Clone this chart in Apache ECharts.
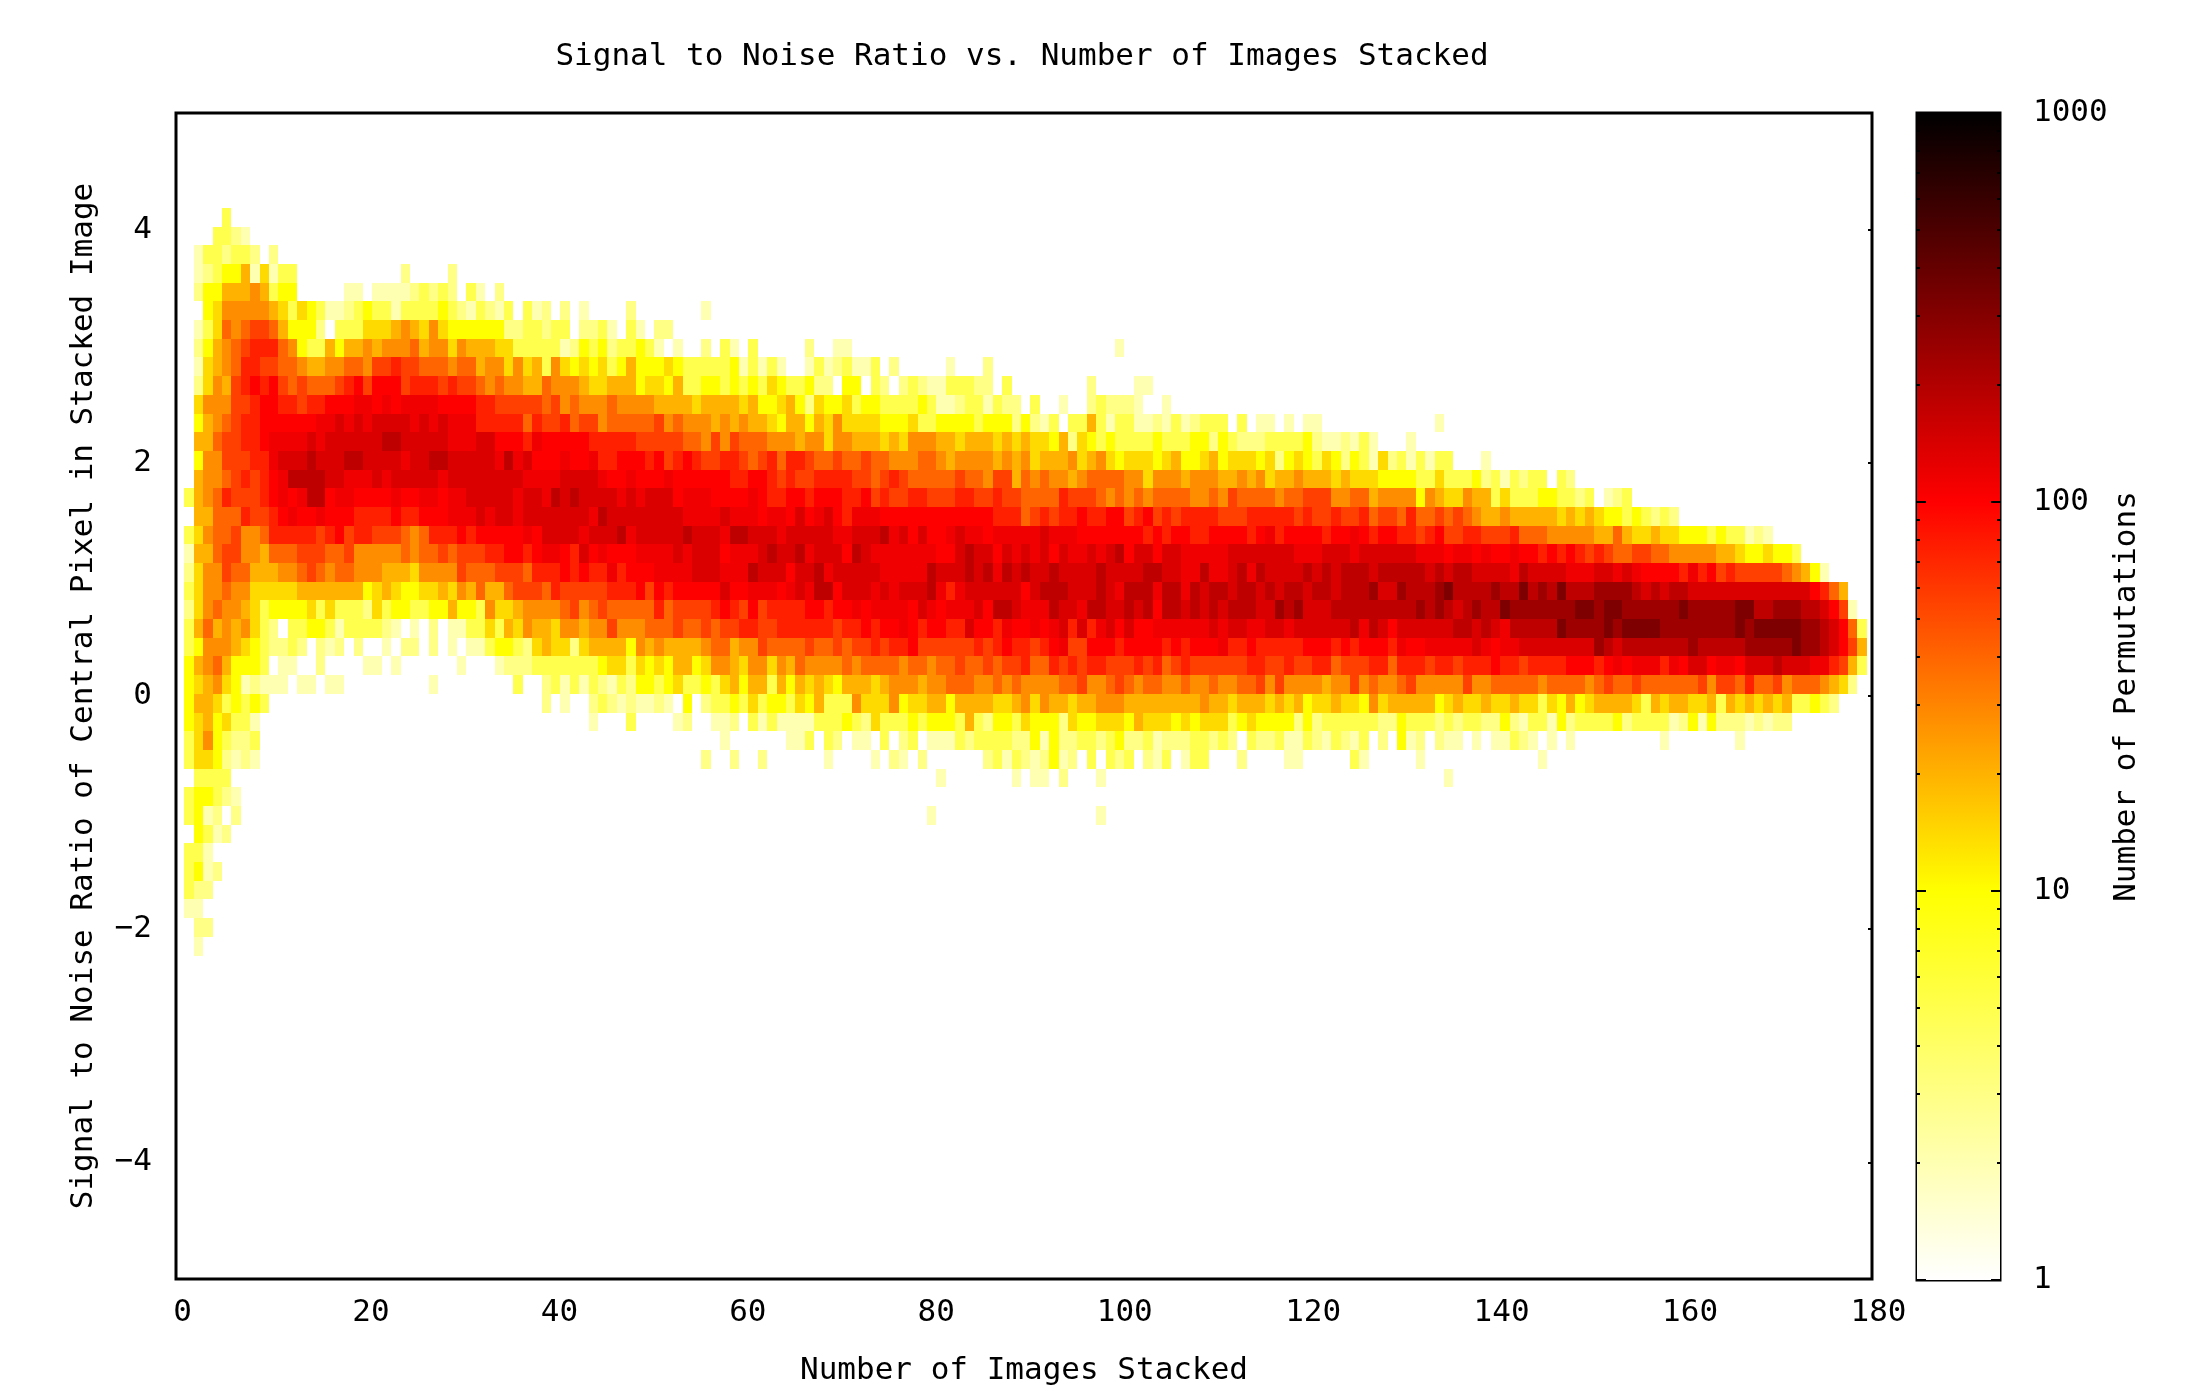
<!DOCTYPE html>
<html>
<head>
<meta charset="utf-8">
<title>Signal to Noise Ratio vs. Number of Images Stacked</title>
<script src="https://cdn.jsdelivr.net/npm/echarts@6/dist/echarts.min.js"></script>
<style>
  html, body { margin: 0; padding: 0; background: #fff; }
  #chart { width: 2198px; height: 1391px; }
</style>
</head>
<body>
<div id="chart"></div>
<script>
  // levels: one letter per cell, '.' is an empty cell
  var levelKeys = 'abcdefghijklmnop';
  var levelCounts = [2, 3, 5, 10, 14, 20, 28, 40, 56, 75, 100, 115, 140, 180, 240, 320];

  // images 1-31, rows 0-39
  var cellsA = [
    '....c',
    '...ccba',
    '.accbccb.b',
    '.abcddfaeacc...........b....b',
    '.bddfffgfcdd.....aa.aaaabcbcb.c',
    '..degggggfecedcaabcdccaccccdcba',
    '.acehghiihfdddb.ccceeefgfegeddd',
    '.bdfghijjjhgdccfdffgfggghfggegf',
    '.aefghjjiihhgffgghhgiijiihhhghh',
    '.begfijkjkihihhhijkikkkijjjijii',
    '.egggiijkkjjijjkkkllklkllllkkkk',
    '.dfghijjkkkkkkllmlmlmmmmlmlmlll',
    '.ffhiijjkllllmlmmmmmmnnmmmmmlll',
    '.dggiiijjlmmmnmmmnnmmmmlmmnnmmm',
    '.fgghijijklnnnnmmlllmlmmmmmlmmm',
    'cfghjiiijklklnnkllkkkklkkllkllm',
    '.ffhhhjiijklkklkkkjjjjkjjkkklll',
    'ceghhigghjjjjjijkijjiiihghjjjkj',
    'affhiiggfhhhiiihhiggggghghhihii',
    'beggihhfffgghihghhgggfffeggggih',
    'cegghggeeeeefffffffdefeddeefegf',
    'beghggfecddddececccbecddccddfdd',
    'cfhfgfgecb.ccddcaccccba.a.b.aac',
    'cdgggfedcbbcb.bab.b..a.bb.b.a.a',
    'dfghfdddc.aa..b....aa.a......a',
    'defgedabaaa.aa.aa.........a',
    'dffecdcdc',
    'defdecca',
    'cegdcbbc',
    'ceedbaba',
    '.cccc',
    'cddcba',
    'cdab.b',
    '.dcab',
    'cca',
    'cdab',
    'cbb',
    'aa',
    '.bb',
    '.a'
  ];

  // images 32-56, rows 4-29
  var cellsB = [
    'a.b',
    'cbac.cab.b.a....b.......a',
    'dddbbccbcc.bbca.ca.bb....',
    'ffeecccccabdcdbccdca.a..b',
    'fggegefcgededecdfdddedccc',
    'hghggffhgggfeefffdeedfccd',
    'jjiiiiihighggghggggffffef',
    'jjjjjhjiijhiighhhhhighggg',
    'mmkkkjlkkkkkjjjjjiiiiihhg',
    'mmlnlmkkklkkljjkkkjkijkji',
    'mmmmmllllmmmmlkklkkklkkkk',
    'mmmmlmmlnmnmmmmlmlmmmklll',
    'mlmmlmmmmmmmlnmmmmmmmmlll',
    'kkkkklkmmmmlmmmnlmmmmmnmm',
    'ijjkkjkllkjmklkkkllllmlmm',
    'hhiiihjjjkjkjjljkkkllllmm',
    'hffhiiihjiiiiijjjkikjkkkk',
    'cgeefgggghighihhhhhjhiiii',
    'cecfegffeggfggiggghhhihhi',
    'acddcbefeebeffffdgfgffffg',
    '..abbbcccccccdeecededffde',
    '....c..bcacacbacbddcdeccd',
    '.......b.a..bcbabaaba.d.b',
    '............a...c....ab',
    '',
    '........................b'
  ];

  // images 57-81, rows 5-32
  var cellsC = [
    '',
    '',
    '.ca.c.....b..aa',
    'ccdacaca..acabcaac.b',
    'dcdcdcedccdbb.dd.cb.bcbaa',
    'fffefddefdbeddecddccccdca',
    'fgfgffedffdfegeeeedddeccd',
    'igihhhgggfggeggfffefegggf',
    'ijjihijhjjihhihhihhggghhg',
    'kkjjkkjijiijjjjiihijihhhh',
    'kkkklkjjkkjkkkjjkijiijjii',
    'lmlllkllkmklmkjlllkkkkkkk',
    'mlnnmmmlmmmmmllmmmnlmkmkk',
    'mklllmnmmnlmmmknmlllllllk',
    'mlllnmmmkmmnlmmmmmlllllnm',
    'kmkklllklmlnnkmmmlmlmmmnl',
    'jkjikijjjjkkjkklkllllkmlk',
    'hiijjiijjjjjjijjkjkklkjkk',
    'hhfggihhhhihhihiijijjkiii',
    'ggfeggegfhgggghghhhhghhgh',
    'cefdffcfdfefedfffefgggfgg',
    'ccdcecddcedfcccgeeegdeeff',
    'aab.cacaaaacccdcbecccdcdd',
    '.a......aac.cb.aa.c.bc.aa',
    '..b..b......a....a.ba.b',
    '........................a',
    '',
    '.......................a'
  ];

  // images 82-106, rows 7-32
  var cellsD = [
    '..................a',
    'a...b',
    'cccbb.c........b....aa',
    'abccacbb.c..a..bcbbba..a.',
    'dddcdddbdbac.ccfcaccaabac',
    'fefffefefeedfbedcdccccdcc',
    'fggggfgfgefffgefgedeeedef',
    'hihhgiifhghggfghhhhggeggg',
    'ijjiijiihhhhjiiihghghghhh',
    'kkkkkjjjhijijjkjjkkijkiji',
    'lmllklllllmlllkkkkkkkjkjk',
    'kmnmmkmlmlmkmllmlmnkmmkmm',
    'mmnmnlnmnmmnmmmmnmmmmnnmm',
    'jlmmmmmmkmnnnmmmnmlnnnlnn',
    'lllmknnmlllnmmlnnmmnmnknn',
    'jjmkkjlkklklmjmjlmkmkklll',
    'iiijijkjjijkliikkkjkkkkjk',
    'hihhihiijhhjijijjiiijijhi',
    'hhhgghghgggghhigghihghhgg',
    'dffffeefgegffeffgggffffff',
    'dcfcbddcedddbeddeeedfeeed',
    'acbccccbbdadbbccbcdbbcabb',
    '....bcacbabdab.c.cbc.bac.',
    '.......a.aa.b...a',
    '',
    '................a'
  ];

  // images 107-131, rows 11-29
  var cellsE = [
    'abccc.c.aa.a.aa',
    'cddbdcbbbccccdbaabaca...a',
    'ddefdeeedebdedcedbdcaebca',
    'fgggffgfgeffgfffefeeedddd',
    'hgghgihhhhghhiiigghhfgggg',
    'jjjjiiijjjjjijiijiijhiihj',
    'kjjkkkkjkljkkkkjkklkjkkjj',
    'lllllmmmmmmmlllmmmlmmmmmm',
    'llnllmnlnmmmmnmnmnnnmnnnn',
    'lnmnnmnnmnmnnmnnmnnnommon',
    'mnmnmnnnmmonommmnnnnnnnnn',
    'lllmlmmllmmlmmmmmmnlnmkmm',
    'jkkkljjkjjjjjkkkjkjkkkjlk',
    'jiiiiiijjiijiijjhiiijjhjj',
    'hgghgghhigiggggfggighgghi',
    'ffgffefffefefdeefeedgefff',
    'edeeecdeddddbdbccccccbbdc',
    'bccbcb.cbbcaacbacbac.b.da',
    'acc...b....aa.....ca'
  ];

  // images 132-155, rows 11-30
  var cellsF = [
    '..a',
    '',
    'cacc...a',
    'ccecccdbcacbcc.cb',
    'dgfeegffcecccddccbc.abc',
    'hhihihgffgfffffefefeddcd',
    'ijkiijjiiijhhhgggggffhfe',
    'lllkllklkklkkjkjkjijihhi',
    'nmnmnnmmmmlnmmmmlllmmlml',
    'nnopnnnnonnpnonpnnnoooon',
    'ononmnonnpoooooooppoppoo',
    'mmmmnnmnmlnnnnnpoooopopp',
    'klllllmlkllmmmmmmmmonmnn',
    'jijjijjjkjjijjjjkkkjklkl',
    'gggggigghhhhhghhhhghihhi',
    'ffdefeefeefeecedfdeffffe',
    'ccbcbccbbdbaccadbccccdbc',
    'b.baa.a.aacba.a.a',
    'a............a',
    '...a'
  ];

  // images 156-179, rows 16-28
  var cellsG = [
    'cbcb',
    'efeedddcdccaba',
    'ihhgggggffeddeddc',
    'kkkkjljkijiiiiihgfda',
    'mnmnnmmmmmmmmmmmmmkjhf',
    'oooopoooooppnnooonnmkia',
    'ppoooooooopopppppoonmkhc',
    'nnnnnonnnnnooooopoonmkif',
    'lljlkmmkllkmmmnmmmlljifc',
    'hhhhhhigiihjhhighhhgfeb',
    'cfeffeefcfefefefccdcb',
    'cccabdadbbbababb',
    '..a.......a'
  ];

  var cellBlocks = [cellsA, cellsB, cellsC, cellsD, cellsE, cellsF, cellsG];
  var blockFirstImage = [0, 31, 56, 81, 106, 131, 155];
  var blockFirstRow = [0, 4, 5, 7, 11, 11, 16];

  var yLabelValues = [-4, -2, 0, 2, 4];
  var barMajorTicks = [1, 10, 100, 1000];
  var barMinorTicks = [2, 3, 4, 5, 6, 7, 8, 9, 20, 30, 40, 50, 60, 70, 80, 90, 200, 300, 400, 500, 600, 700, 800, 900];

  var titleText = 'Signal to Noise Ratio vs. Number of Images Stacked';
  var xName = 'Number of Images Stacked';
  var yName = 'Signal to Noise Ratio of Central Pixel in Stacked Image';
  var barName = 'Number of Permutations';

  // gnuplot bins: cell edges in axis units
  var colStart = 0.9, colStep = 0.9975;
  var rowTop = 4.186, rowStep = 0.1603;

  var fontName = '"DejaVu Sans Mono", monospace';
  var fontSize = 31;

  function buildCells() {
    var out = [];
    cellBlocks.forEach(function (block, b) {
      block.forEach(function (line, i) {
        for (var c = 0; c < line.length; c++) {
          var lvl = levelKeys.indexOf(line[c]);
          if (lvl < 0) continue;
          var count = levelCounts[lvl];
          var col = blockFirstImage[b] + c;
          var row = blockFirstRow[b] + i;
          out.push([colStart + col * colStep, rowTop - row * rowStep, count, Math.log10(count)]);
        }
      });
    });
    return out;
  }

  function renderCell(params, api) {
    var a = api.coord([api.value(0), api.value(1)]);
    var b = api.coord([api.value(0) + colStep, api.value(1) - rowStep]);
    var x0 = Math.round(a[0]), y0 = Math.round(a[1]);
    return {
      type: 'rect',
      shape: { x: x0, y: y0, width: Math.round(b[0]) - x0, height: Math.round(b[1]) - y0 },
      style: { fill: api.visual('color') }
    };
  }

  function renderBar(params, api) {
    var a = api.coord([0, 1000]);
    var b = api.coord([1, 1]);
    return {
      type: 'rect',
      shape: { x: a[0], y: a[1], width: b[0] - a[0], height: b[1] - a[1] },
      style: {
        fill: new echarts.graphic.LinearGradient(0, 0, 0, 1, [
          { offset: 0, color: '#000000' },
          { offset: 1 / 3, color: '#ff0000' },
          { offset: 2 / 3, color: '#ffff00' },
          { offset: 1, color: '#ffffff' }
        ])
      }
    };
  }

  function renderBarTick(params, api) {
    var len = api.value(1);
    var l = api.coord([0, api.value(0)]);
    var r = api.coord([1, api.value(0)]);
    var y = Math.round(l[1]);
    return {
      type: 'group',
      children: [
        { type: 'line', shape: { x1: l[0], y1: y, x2: l[0] + len, y2: y }, style: { stroke: '#000', lineWidth: 2 } },
        { type: 'line', shape: { x1: r[0], y1: y, x2: r[0] - len, y2: y }, style: { stroke: '#000', lineWidth: 2 } }
      ]
    };
  }

  var textStyle = { fontFamily: fontName, fontSize: fontSize, color: '#000' };
  var chart = echarts.init(document.getElementById('chart'));

  chart.setOption({
    animation: false,
    backgroundColor: '#fff',
    title: {
      text: titleText,
      left: 1017,
      top: 36,
      textAlign: 'center',
      textStyle: { fontFamily: fontName, fontSize: fontSize, fontWeight: 'normal', color: '#000' }
    },
    grid: [
      { left: 176, top: 113, width: 1696, height: 1167, show: true, borderColor: '#000', borderWidth: 3, backgroundColor: '#fff' },
      { left: 1917, top: 113, width: 83, height: 1167, show: true, borderColor: '#000', borderWidth: 3 }
    ],
    xAxis: [{
      type: 'value', gridIndex: 0, min: 0, max: 180, interval: 20,
      name: xName, nameLocation: 'middle', nameGap: 76,
      nameTextStyle: textStyle,
      axisLine: { show: false }, axisTick: { show: false }, splitLine: { show: false },
      axisLabel: { margin: 18, padding: [0, 0, 0, 13], fontFamily: fontName, fontSize: fontSize, color: '#000', showMaxLabel: true, showMinLabel: true }
    }, {
      type: 'value', gridIndex: 1, min: 0, max: 1, show: false
    }],
    yAxis: [{
      type: 'value', gridIndex: 0, min: -5, max: 5,
      name: yName, nameLocation: 'middle', nameGap: 77, nameRotate: 90,
      nameTextStyle: textStyle,
      axisLine: { show: false }, axisTick: { show: false }, splitLine: { show: false },
      axisLabel: { margin: 24, fontFamily: fontName, fontSize: fontSize, color: '#000', customValues: yLabelValues, formatter: function (v) { return v < 0 ? '\u2212' + (-v) : '' + v; } }
    }, {
      type: 'value', gridIndex: 0, min: -5, max: 5, position: 'right',
      axisLine: { show: false }, splitLine: { show: false }, axisLabel: { show: false },
      axisTick: { show: true, inside: true, length: 4, lineStyle: { color: '#000', width: 2 }, customValues: yLabelValues }
    }, {
      type: 'log', logBase: 10, gridIndex: 1, min: 1, max: 1000, position: 'right',
      name: barName, nameLocation: 'middle', nameGap: 73, nameRotate: 90,
      nameTextStyle: textStyle,
      axisLine: { show: false }, axisTick: { show: false }, splitLine: { show: false },
      axisLabel: { margin: 33, fontFamily: fontName, fontSize: fontSize, color: '#000', formatter: function (v) { return String(Math.round(v)); } }
    }],
    visualMap: {
      show: false, type: 'continuous', min: 0, max: 3, dimension: 3, seriesIndex: 0,
      inRange: { color: ['#ffffff', '#ffff00', '#ff0000', '#000000'] }
    },
    series: [{
      type: 'custom',
      name: 'cells',
      xAxisIndex: 0, yAxisIndex: 0,
      silent: true, clip: true,
      renderItem: renderCell,
      encode: { x: 0, y: 1 },
      data: buildCells()
    }, {
      type: 'custom',
      name: 'bar',
      xAxisIndex: 1, yAxisIndex: 2,
      silent: true,
      renderItem: renderBar,
      data: [[0, 1]]
    }, {
      type: 'custom',
      name: 'barTicks',
      xAxisIndex: 1, yAxisIndex: 2,
      silent: true, z: 5,
      renderItem: renderBarTick,
      encode: { y: 0 },
      data: barMajorTicks.map(function (v) { return [v, 9]; }).concat(barMinorTicks.map(function (v) { return [v, 3]; }))
    }]
  });
</script>
</body>
</html>
